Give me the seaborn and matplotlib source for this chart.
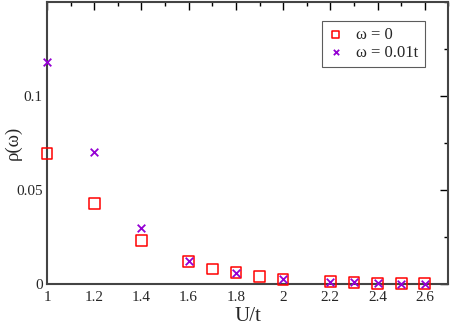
import matplotlib
matplotlib.use("Agg")
import matplotlib.pyplot as plt
import seaborn as sns
import pandas as pd
from matplotlib.ticker import MultipleLocator

u_sq = [1.0, 1.2, 1.4, 1.6, 1.7, 1.8, 1.9, 2.0, 2.2, 2.3, 2.4, 2.5, 2.6]
rho_w0 = [0.0695, 0.043, 0.023, 0.012, 0.008, 0.006, 0.0042, 0.0025, 0.0013, 0.001, 0.0003, 0.0002, 0.0002]
u_x = [1.0, 1.2, 1.4, 1.6, 1.8, 2.0, 2.2, 2.3, 2.4, 2.5, 2.6]
rho_w001 = [0.118, 0.070, 0.030, 0.0125, 0.0058, 0.0025, 0.0013, 0.001, 0.0003, 0.0002, 0.0002]
labels = ["ω = 0", "ω = 0.01t"]

sns.set_style("white")
plt.rcParams['font.family'] = ['Liberation Serif', 'DejaVu Serif']

fig = plt.figure(figsize=(4.52, 3.28), dpi=100)
ax = fig.add_axes([0.104, 0.134, 0.888, 0.86])

df1 = pd.DataFrame({"U": u_sq, "rho": rho_w0})
df2 = pd.DataFrame({"U": u_x, "rho": rho_w001})
sns.scatterplot(data=df1, x="U", y="rho", ax=ax, marker="s", s=60,
                facecolors="none", edgecolor="red", linewidth=1.1, label=labels[0],
                clip_on=False, zorder=3)
sns.scatterplot(data=df2, x="U", y="rho", ax=ax, marker="x", s=30,
                color="darkviolet", linewidth=1.3, label=labels[1],
                clip_on=False, zorder=4)

ax.set_xlim(1.0, 2.7)
ax.set_ylim(0, 0.15)
ax.xaxis.set_major_locator(MultipleLocator(0.2))
ax.xaxis.set_minor_locator(MultipleLocator(0.1))
ax.yaxis.set_major_locator(MultipleLocator(0.05))
ax.yaxis.set_minor_locator(MultipleLocator(0.025))
ax.set_xticks([1.0, 1.2, 1.4, 1.6, 1.8, 2.0, 2.2, 2.4, 2.6])
ax.set_xticklabels(["1", "1.2", "1.4", "1.6", "1.8", "2", "2.2", "2.4", "2.6"])
ax.set_yticks([0, 0.05, 0.1])
ax.set_yticklabels(["0", "0.05", "0.1"])
ax.tick_params(which="both", direction="in", top=True, right=True, labelsize=11,
               color="black", width=1)
ax.tick_params(which="major", length=6)
ax.tick_params(which="minor", length=3)
ax.tick_params(axis="x", pad=5)
ax.tick_params(axis="y", pad=3)
for sp in ax.spines.values():
    sp.set_color("#444444")
    sp.set_linewidth(1.5)
    sp.set_zorder(2)

ax.set_xlabel("U/t", fontsize=15, labelpad=2)
ax.set_ylabel("ρ(ω)", fontsize=13.5)
ax.yaxis.set_label_coords(-0.062, 0.50)

leg = ax.legend(loc="upper right", bbox_to_anchor=(0.9405, 0.933), fontsize=12,
                frameon=True, fancybox=False, edgecolor="#333333", handletextpad=0.8,
                borderpad=0.35, handlelength=0.9, labelspacing=0.12,
                borderaxespad=0, markerscale=0.7)
leg.get_frame().set_linewidth(0.8)

fig.savefig("out.png", dpi=100)
